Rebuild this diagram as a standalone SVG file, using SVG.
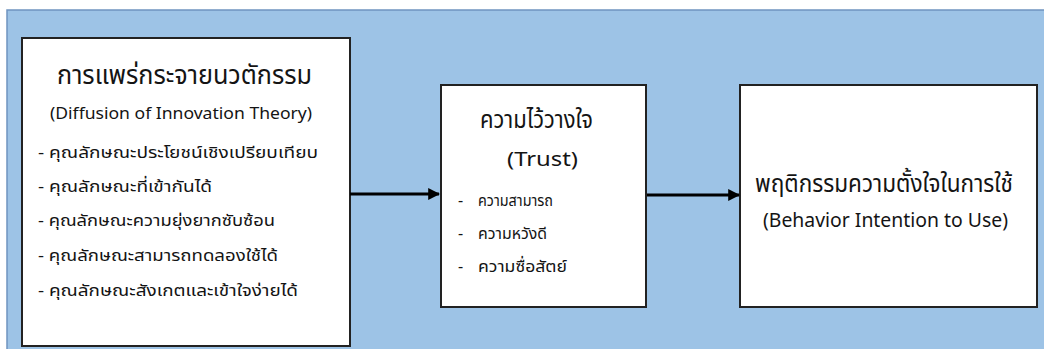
<svg xmlns="http://www.w3.org/2000/svg" width="1044" height="349" viewBox="0 0 1044 349">
<style>
.box{fill:#ffffff;stroke:#222222;stroke-width:2}
.t{font-family:"Noto Sans Thai","Tahoma","Leelawadee UI","Noto Sans","DejaVu Sans",sans-serif;fill:#141414}
.arr{stroke:#000000;stroke-width:3;fill:none}
</style>
<defs>
<marker id="ah" markerWidth="4" markerHeight="4" refX="3.6" refY="2" orient="auto" markerUnits="strokeWidth">
<path d="M0,0 L4,2 L0,4 Z" fill="#000000"/>
</marker>
</defs>
<rect x="0" y="0" width="1044" height="349" fill="#ffffff"/>
<rect x="7" y="10" width="1040" height="342" fill="#9dc3e6" stroke="#6f94c0" stroke-width="1.5"/>
<g id="node-diffusion">
<rect class="box" x="22" y="38" width="328" height="308"/>
<text class="t" x="57" y="84" font-size="26" textLength="255" lengthAdjust="spacingAndGlyphs">การแพร่กระจายนวตักรรม</text>
<text class="t" x="50" y="119" font-size="17" textLength="262" lengthAdjust="spacingAndGlyphs">(Diffusion of Innovation Theory)</text>
<text class="t" x="38" y="158" font-size="16" textLength="280" lengthAdjust="spacingAndGlyphs">- คุณลักษณะประโยชน์เชิงเปรียบเทียบ</text>
<text class="t" x="38" y="192" font-size="16" textLength="174" lengthAdjust="spacingAndGlyphs">- คุณลักษณะที่เข้ากันได้</text>
<text class="t" x="38" y="226" font-size="16" textLength="237" lengthAdjust="spacingAndGlyphs">- คุณลักษณะความยุ่งยากซับซ้อน</text>
<text class="t" x="38" y="261" font-size="16" textLength="240" lengthAdjust="spacingAndGlyphs">- คุณลักษณะสามารถทดลองใช้ได้</text>
<text class="t" x="38" y="296" font-size="16" textLength="260" lengthAdjust="spacingAndGlyphs">- คุณลักษณะสังเกตและเข้าใจง่ายได้</text>
</g>
<g id="node-trust">
<rect class="box" x="441" y="85" width="205" height="222"/>
<text class="t" x="480" y="128" font-size="25" textLength="113" lengthAdjust="spacingAndGlyphs">ความไว้วางใจ</text>
<text class="t" x="507" y="166" font-size="20" textLength="71" lengthAdjust="spacingAndGlyphs">(Trust)</text>
<text class="t" x="458" y="206" font-size="16">-</text>
<text class="t" x="478" y="206" font-size="16" textLength="75" lengthAdjust="spacingAndGlyphs">ความสามารถ</text>
<text class="t" x="458" y="239" font-size="16">-</text>
<text class="t" x="478" y="239" font-size="16" textLength="69" lengthAdjust="spacingAndGlyphs">ความหวังดี</text>
<text class="t" x="458" y="272" font-size="16">-</text>
<text class="t" x="478" y="272" font-size="16" textLength="89" lengthAdjust="spacingAndGlyphs">ความซื่อสัตย์</text>
</g>
<g id="node-intention">
<rect class="box" x="740" y="85" width="297" height="222"/>
<text class="t" x="755" y="192" font-size="25" textLength="258" lengthAdjust="spacingAndGlyphs">พฤติกรรมความตั้งใจในการใช้</text>
<text class="t" x="763" y="227" font-size="19" textLength="245" lengthAdjust="spacingAndGlyphs">(Behavior Intention to Use)</text>
</g>
<g id="connectors">
<line class="arr" x1="350" y1="194" x2="439" y2="194" marker-end="url(#ah)"/>
<line class="arr" x1="647" y1="195" x2="739" y2="195" marker-end="url(#ah)"/>
</g>
</svg>
